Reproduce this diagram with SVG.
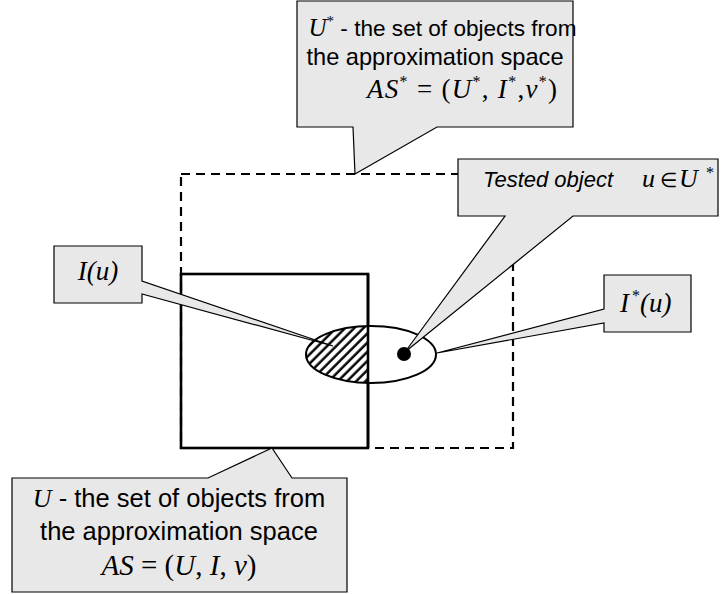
<svg xmlns="http://www.w3.org/2000/svg" width="727" height="594" viewBox="0 0 727 594">
<style>
.s{font-family:"Liberation Sans",Arial,sans-serif;}
.m{font-family:"Liberation Serif","Times New Roman",serif;font-style:italic;}
.u{font-family:"Liberation Serif","Times New Roman",serif;font-style:normal;}
.call{fill:#e8e8e8;stroke:#000;stroke-width:1.2;stroke-linejoin:miter;}
text{fill:#000;}
</style>
<defs>
<pattern id="hatch" patternUnits="userSpaceOnUse" width="6.5" height="6.5" patternTransform="rotate(45)">
<rect width="6.5" height="6.5" fill="#fff"/>
<line x1="1.5" y1="0" x2="1.5" y2="6.5" stroke="#000" stroke-width="2.4"/>
</pattern>
<clipPath id="leftHalf"><rect x="0" y="0" width="368" height="594"/></clipPath>
</defs>
<rect width="727" height="594" fill="#fff"/>
<g id="set-U-star">
<rect x="181" y="174" width="332" height="274" fill="none" stroke="#000" stroke-width="2.2" stroke-dasharray="9,6"/>
</g>
<g id="set-U">
<rect x="181" y="274" width="187" height="174" fill="none" stroke="#000" stroke-width="2.6"/>
</g>
<g id="object-neighbourhood">
<ellipse cx="371" cy="354.5" rx="65" ry="28.5" fill="#fff"/>
<ellipse cx="371" cy="354.5" rx="65" ry="28.5" fill="url(#hatch)" clip-path="url(#leftHalf)"/>
<ellipse cx="371" cy="354.5" rx="65" ry="28.5" fill="none" stroke="#000" stroke-width="2"/>
<line x1="368" y1="274" x2="368" y2="448" stroke="#000" stroke-width="2.6"/>
<circle cx="404" cy="354" r="7" fill="#000"/>
</g>
<g id="connectors">
<g id="callout-top">
<path class="call" d="M297,1 H573 V127 H437 L355,174 L353,127 H297 Z"/>
<text x="442.5" y="36" text-anchor="middle"><tspan class="m" font-size="25">U</tspan><tspan class="u" font-size="15" dy="-10">*</tspan><tspan class="s" dy="10" font-size="22.6"> - the set of objects from</tspan></text>
<text class="s" x="435" y="65" font-size="23.6" text-anchor="middle">the approximation space</text>
<text y="98" font-size="27" textLength="190" lengthAdjust="spacing"><tspan class="m" x="367">AS</tspan><tspan class="u" font-size="16" dy="-11">*</tspan><tspan class="u" dy="11"> = (</tspan><tspan class="m">U</tspan><tspan class="u" font-size="16" dy="-11">*</tspan><tspan class="u" dy="11">, </tspan><tspan class="m">I</tspan><tspan class="u" font-size="16" dy="-11">*</tspan><tspan class="u" dy="11">,</tspan><tspan class="m">ν</tspan><tspan class="u" font-size="16" dy="-11">*</tspan><tspan class="u" dy="11">)</tspan></text>
</g>
<g id="callout-tested">
<path class="call" d="M458,159 H718 V216 H573 L405,352 L505,216 H458 Z"/>
<text y="187"><tspan class="s" x="483" font-size="22" font-style="italic">Tested object</tspan><tspan class="m" x="642" font-size="26">u</tspan><tspan class="u" x="660" font-size="20">∈</tspan><tspan class="m" x="679" font-size="26">U</tspan><tspan class="u" x="706" y="178" font-size="16">*</tspan></text>
</g>
<g id="callout-Iu">
<path class="call" d="M54,246 H142 V281 L333,346 L142,294 V303 H54 Z"/>
<text class="m" x="98" y="280" font-size="27" text-anchor="middle">I(u)</text>
</g>
<g id="callout-Istar">
<path class="call" d="M604,275 H691 V332 H604 V323 L437,353 L604,309 Z"/>
<text y="312"><tspan class="m" x="620" font-size="27">I</tspan><tspan class="u" x="632" y="301" font-size="16">*</tspan><tspan class="m" x="640" y="312" font-size="27">(u)</tspan></text>
</g>
<g id="callout-bottom">
<path class="call" d="M12,478 H208 L272,448 L292,478 H347 V592 H12 Z"/>
<text y="507" text-anchor="middle" x="179"><tspan class="m" font-size="26">U</tspan><tspan class="s" font-size="25.5"> - the set of objects from</tspan></text>
<text class="s" x="179" y="540" font-size="25.5" text-anchor="middle">the approximation space</text>
<text y="575" text-anchor="middle" x="179" font-size="29"><tspan class="m">AS</tspan><tspan class="u"> = (</tspan><tspan class="m">U</tspan><tspan class="u">, </tspan><tspan class="m">I</tspan><tspan class="u">, </tspan><tspan class="m">ν</tspan><tspan class="u">)</tspan></text>
</g>
</g>
</svg>
